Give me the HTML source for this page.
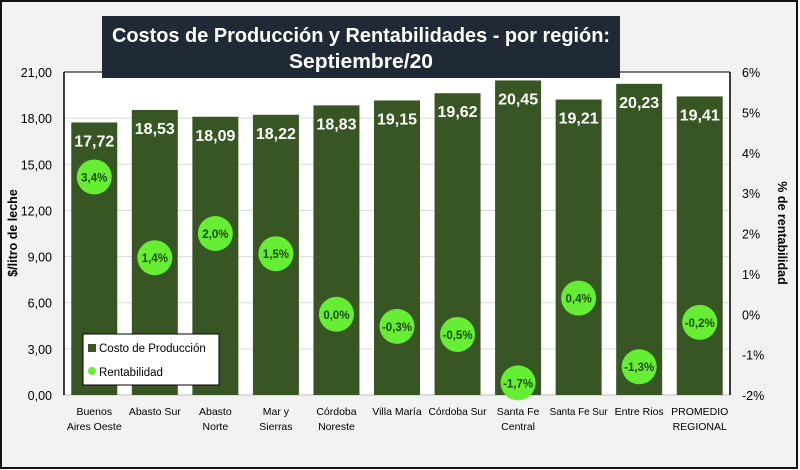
<!DOCTYPE html>
<html><head><meta charset="utf-8"><style>
html,body{margin:0;padding:0;background:#fff}
svg{display:block;font-family:"Liberation Sans",sans-serif}
</style></head><body>
<svg id="chart" width="800" height="470" viewBox="0 0 800 470">
<rect x="1" y="1" width="796" height="467" fill="#f2f2f2" stroke="#111" stroke-width="2"/>
<rect x="64" y="72" width="666" height="323" fill="#fff"/>
<g id="grid"></g>
<g id="bars"></g>
<line x1="64" y1="72" x2="64" y2="395" stroke="#000" stroke-width="1.5"/>
<line x1="730" y1="72" x2="730" y2="395" stroke="#000" stroke-width="1.5"/>
<line x1="64" y1="72" x2="730" y2="72" stroke="#000" stroke-width="1"/>
<g id="ticks"></g>
<g id="cats"></g>
<rect x="102" y="16" width="518" height="62" fill="#1f2a36"/>
<text x="361" y="42" text-anchor="middle" fill="#fff" font-size="20" font-weight="bold" textLength="498" lengthAdjust="spacingAndGlyphs">Costos de Producción y Rentabilidades - por región:</text>
<text x="361" y="68" text-anchor="middle" fill="#fff" font-size="20" font-weight="bold" textLength="144" lengthAdjust="spacingAndGlyphs">Septiembre/20</text>
<text transform="translate(17,233) rotate(-90)" text-anchor="middle" font-size="12.5" font-weight="bold" fill="#000">$/litro de leche</text>
<text transform="translate(778,233) rotate(90)" text-anchor="middle" font-size="12.5" font-weight="bold" fill="#000">% de rentabilidad</text>
<g>
<rect x="83" y="334" width="136" height="51" fill="#fff" stroke="#000" stroke-width="1"/>
<rect x="88" y="344" width="8" height="8" fill="#375623"/>
<text x="99" y="352" font-size="11.5" fill="#000">Costo de Producción</text>
<circle cx="92" cy="371" r="4" fill="#66ee33"/>
<text x="99" y="376" font-size="11.5" fill="#000">Rentabilidad</text>
</g>
</svg>
<script>
const categories = [["Buenos","Aires Oeste"],["Abasto Sur"],["Abasto","Norte"],["Mar y","Sierras"],["Córdoba","Noreste"],["Villa María"],["Córdoba Sur"],["Santa Fe","Central"],["Santa Fe Sur"],["Entre Rios"],["PROMEDIO","REGIONAL"]];
const costos = [17.72,18.53,18.09,18.22,18.83,19.15,19.62,20.45,19.21,20.23,19.41];
const rentabilidad = [3.4,1.4,2.0,1.5,0.0,-0.3,-0.5,-1.7,0.4,-1.3,-0.2];
const leftTicks = [0,3,6,9,12,15,18,21];
const rightTicks = [-2,-1,0,1,2,3,4,5,6];

const NS = "http://www.w3.org/2000/svg";
const X0 = 64, X1 = 730, YT = 72, YB = 395;
const band = (X1 - X0) / categories.length;
const xC = i => X0 + band * (i + 0.5);
const yL = v => YB - (v / 21) * (YB - YT);
const yR = v => YB - ((v + 2) / 8) * (YB - YT);
const fmt = (v, d) => v.toFixed(d).replace(".", ",");
function mk(tag, attrs, parent, txt) {
  const e = document.createElementNS(NS, tag);
  for (const k in attrs) e.setAttribute(k, attrs[k]);
  if (txt !== undefined) e.textContent = txt;
  parent.appendChild(e);
  return e;
}
const grid = document.getElementById("grid"), ticks = document.getElementById("ticks"),
      bars = document.getElementById("bars"), cats = document.getElementById("cats");
leftTicks.forEach(t => {
  if (t > 0 && t < 21) {
    const g = mk("line", {x1: X0, x2: X1, y1: yL(t), y2: yL(t), stroke: "#d9d9d9", "stroke-width": 1}, grid);
    
    
  }
  const l = mk("text", {x: 52, y: yL(t) + 5, "text-anchor": "end", "font-size": 12.5, fill: "#000"}, ticks, fmt(t, 2));
  
  
});
const bl = mk("line", {x1: X0, x2: X1, y1: YB, y2: YB, stroke: "#bfbfbf", "stroke-width": 1}, grid);


rightTicks.forEach(t => {
  const l = mk("text", {x: 742, y: yR(t) + 5, "font-size": 12.5, fill: "#000"}, ticks, t + "%");
  
  
});
const bw = 46;
categories.forEach((c, i) => {
  const x = xC(i), top = yL(costos[i]);
  const r = mk("rect", {x: x - bw / 2, y: top, width: bw, height: YB - top, fill: "#375623"}, bars);
  
  
  const v = mk("text", {x: x, y: top + 24, "text-anchor": "middle", "font-size": 16, "font-weight": "bold", fill: "#fff"}, bars, fmt(costos[i], 2));
  
  
  const cy = yR(rentabilidad[i]);
  const p = mk("circle", {cx: x, cy: cy, r: 17.5, fill: "#66ee33"}, bars);
  
  
  const pl = mk("text", {x: x, y: cy + 4.5, "text-anchor": "middle", "font-size": 11.5, "font-weight": "bold", fill: "#1e4a10"}, bars, fmt(rentabilidad[i], 1) + "%");
  
  
  c.forEach((line, j) => {
    const t = mk("text", {x: x, y: 415 + j * 15, "text-anchor": "middle", "font-size": 10.5, fill: "#000"}, cats, line);
    if (t.getComputedTextLength() > 58) { t.setAttribute("textLength", 58); t.setAttribute("lengthAdjust", "spacingAndGlyphs"); }
    
    
  });
});
</script>
</body></html>
